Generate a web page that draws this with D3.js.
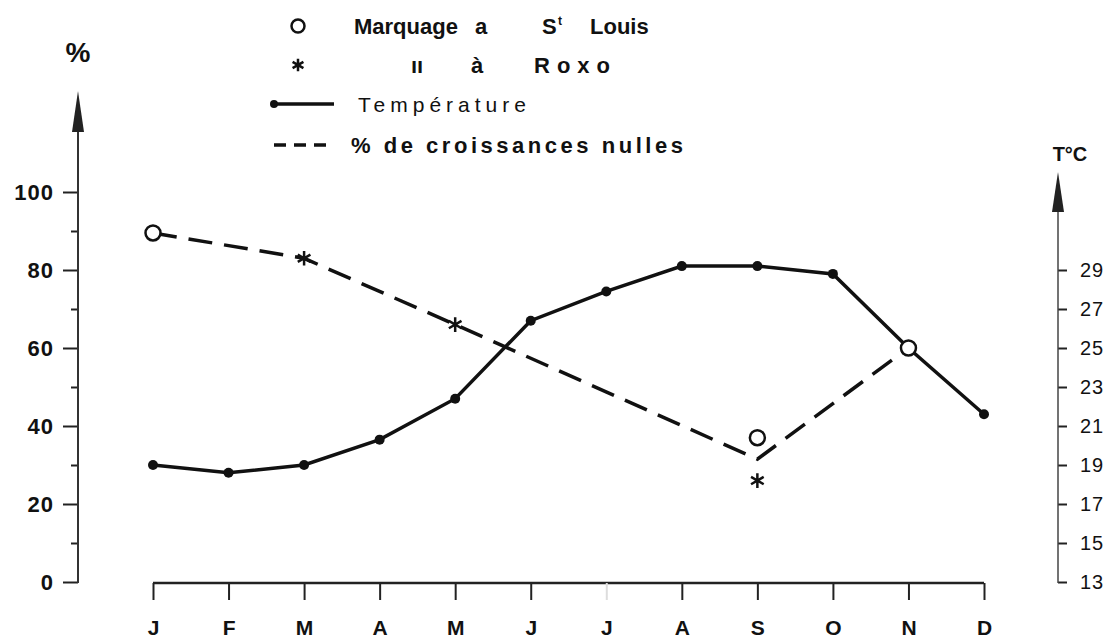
<!DOCTYPE html>
<html>
<head>
<meta charset="utf-8">
<script src="https://cdn.jsdelivr.net/npm/d3@7"></script>
<style>
	body { margin: 0; background: #fff; }
	text { font-family: "Liberation Sans", Arial, sans-serif; fill: #111; }
</style>
</head>
<body>
<div id="graphicContainer"></div>
<script>

// month initials along the bottom
var months = ["J", "F", "M", "A", "M", "J", "J", "A", "S", "O", "N", "D"]

// mean temperature per month (right axis, °C)
var temperature = [19.0, 18.6, 19.0, 20.3, 22.4, 26.4, 27.9, 29.2, 29.2, 28.8, 25.0, 21.6]

// % of zero growth (dashed line), month index + value
var nullMonths = [0, 2, 4, 8, 10]
var nullPct = [89.5, 83, 66, 31.5, 60]

// marking at St Louis (open circles)
var stLouisMonths = [0, 8, 10]
var stLouisPct = [89.5, 37, 60]

// marking at Roxo (asterisks)
var roxoMonths = [2, 4, 8]
var roxoPct = [83, 66, 26]

var pctTicks = [0, 20, 40, 60, 80, 100]
var pctMinor = [10, 30, 50, 70, 90]
var tempTicks = [13, 15, 17, 19, 21, 23, 25, 27, 29]

var width = 1118
var height = 642

var svg = d3.select("#graphicContainer").append("svg")
	.attr("width", width)
	.attr("height", height)

var x = d3.scaleLinear().domain([0, 11]).range([153, 984])
var y = d3.scaleLinear().domain([0, 100]).range([582, 192])
var yT = d3.scaleLinear().domain([13, 33]).range([582, 192])

var leftX = 78
var rightX = 1058

// ---- left axis
var left = svg.append("g").attr("transform", "translate(" + leftX + ",0)")
left.call(d3.axisLeft(y).tickValues(pctTicks).tickSize(15).tickPadding(9))
left.append("g").call(d3.axisLeft(y).tickValues(pctMinor).tickSize(7).tickFormat(""))
left.selectAll(".domain").remove()
left.selectAll("line").attr("stroke", "#222").attr("stroke-width", 2)
left.selectAll("text")
	.style("font-size", "22px")
	.style("font-weight", "bold")
	.attr("letter-spacing", "1px")
	.attr("fill", "#111")

svg.append("line")
	.attr("x1", leftX).attr("x2", leftX)
	.attr("y1", y(0) + 1).attr("y2", 131)
	.attr("stroke", "#333").attr("stroke-width", 2)
svg.append("path")
	.attr("d", "M" + leftX + ",91 L" + (leftX - 6) + ",132 L" + (leftX + 6) + ",132 Z")
	.attr("fill", "#222")
svg.append("text")
	.attr("x", leftX).attr("y", 62)
	.attr("text-anchor", "middle")
	.style("font-size", "28px").style("font-weight", "bold")
	.text("%")

// ---- right axis
var right = svg.append("g").attr("transform", "translate(" + rightX + ",0)")
right.call(d3.axisRight(yT).tickValues(tempTicks).tickSize(9).tickPadding(13))
right.selectAll(".domain").remove()
right.selectAll("line").attr("stroke", "#222").attr("stroke-width", 2)
right.selectAll("text")
	.style("font-size", "20px")
	.attr("letter-spacing", "1px")
	.attr("fill", "#222")

svg.append("line")
	.attr("x1", rightX).attr("x2", rightX)
	.attr("y1", yT(13) + 1).attr("y2", 210)
	.attr("stroke", "#444").attr("stroke-width", 1.5)
svg.append("path")
	.attr("d", "M" + rightX + ",172 L" + (rightX - 6) + ",212 L" + (rightX + 6) + ",212 Z")
	.attr("fill", "#222")
svg.append("text")
	.attr("x", rightX + 12).attr("y", 161)
	.attr("text-anchor", "middle")
	.style("font-size", "20px").style("font-weight", "bold")
	.text("T°C")

// ---- month axis
var bottom = svg.append("g").attr("transform", "translate(0," + 583 + ")")
bottom.call(d3.axisBottom(x).tickValues(d3.range(12)).tickSize(17).tickPadding(20)
	.tickFormat(function(i) { return months[i] }))
bottom.select(".domain").attr("d", "M" + x(0) + ",0H" + x(11)).attr("stroke", "#222").attr("stroke-width", 2.5)
bottom.selectAll("line").attr("stroke", "#222").attr("stroke-width", 2)
bottom.selectAll("text")
	.style("font-size", "21px")
	.style("font-weight", "bold")
	.attr("fill", "#111")
// July is almost erased in the original
var july = bottom.selectAll(".tick").filter(function(i) { return i == 6 })
july.select("line").attr("stroke", "#ddd")
july.select("text").attr("fill", "#e6e6e6")

// ---- dashed % line
var nullData = nullMonths.map(function(m, i) { return [m, nullPct[i]] })
svg.append("path")
	.datum(nullData)
	.attr("d", d3.line().x(function(d) { return x(d[0]) }).y(function(d) { return y(d[1]) }))
	.attr("fill", "none")
	.attr("stroke", "#111")
	.attr("stroke-width", 3.5)
	.attr("stroke-dasharray", "24,12")

// ---- temperature line
svg.append("path")
	.datum(temperature)
	.attr("d", d3.line().x(function(d, i) { return x(i) }).y(function(d) { return yT(d) }))
	.attr("fill", "none")
	.attr("stroke", "#111")
	.attr("stroke-width", 3.5)

svg.selectAll(".tdot")
	.data(temperature)
	.enter()
	.append("circle")
	.attr("class", "tdot")
	.attr("cx", function(d, i) { return x(i) })
	.attr("cy", function(d) { return yT(d) })
	.attr("r", 5)
	.attr("fill", "#111")

// ---- St Louis circles
svg.selectAll(".stl")
	.data(stLouisMonths)
	.enter()
	.append("circle")
	.attr("class", "stl")
	.attr("cx", function(d) { return x(d) })
	.attr("cy", function(d, i) { return y(stLouisPct[i]) })
	.attr("r", 7.5)
	.attr("fill", "#fff")
	.attr("stroke", "#111")
	.attr("stroke-width", 2.5)

// ---- Roxo asterisks
var star = d3.symbol().type(d3.symbolAsterisk).size(150)
svg.selectAll(".roxo")
	.data(roxoMonths)
	.enter()
	.append("path")
	.attr("class", "roxo")
	.attr("d", star)
	.attr("transform", function(d, i) { return "translate(" + x(d) + "," + y(roxoPct[i]) + ")" })
	.attr("fill", "none")
	.attr("stroke", "#111")
	.attr("stroke-width", 2.5)

// ---- legend
var legend = svg.append("g")
var lx = 298
var rows = [26, 65, 104, 145]

// row 1: open circle, "Marquage a St Louis"
legend.append("circle").attr("cx", lx).attr("cy", rows[0]).attr("r", 6.5)
	.attr("fill", "#fff").attr("stroke", "#111").attr("stroke-width", 2.5)
var t1 = legend.append("text").attr("y", rows[0] + 8)
	.style("font-size", "22px").style("font-weight", "bold")
t1.append("tspan").attr("x", 354).text("Marquage")
t1.append("tspan").attr("x", 475).text("a")
t1.append("tspan").attr("x", 542).text("S")
t1.append("tspan").attr("x", 558).attr("dy", -9).style("font-size", "12px").text("t")
t1.append("tspan").attr("x", 590).attr("dy", 9).text("Louis")

// row 2: asterisk, ditto, "à Roxo"
legend.append("path").attr("d", d3.symbol().type(d3.symbolAsterisk).size(110))
	.attr("transform", "translate(" + lx + "," + rows[1] + ")")
	.attr("fill", "none").attr("stroke", "#111").attr("stroke-width", 2.5)
var t2 = legend.append("text").attr("y", rows[1] + 8)
	.style("font-size", "22px").style("font-weight", "bold")
t2.append("tspan").attr("x", 411).text("ıı")
t2.append("tspan").attr("x", 471).text("à")
t2.append("tspan").attr("x", 534).attr("letter-spacing", "7px").text("Roxo")

// row 3: temperature line
legend.append("line").attr("x1", 274).attr("x2", 334).attr("y1", rows[2]).attr("y2", rows[2])
	.attr("stroke", "#111").attr("stroke-width", 3.5)
legend.append("circle").attr("cx", 274).attr("cy", rows[2]).attr("r", 4).attr("fill", "#111")
legend.append("text").attr("x", 358).attr("y", rows[2] + 8)
	.attr("textLength", 168).attr("lengthAdjust", "spacing")
	.style("font-size", "21px").attr("fill", "#333")
	.text("Température")

// row 4: dashed line
legend.append("line").attr("x1", 274).attr("x2", 334).attr("y1", rows[3]).attr("y2", rows[3])
	.attr("stroke", "#111").attr("stroke-width", 3.5).attr("stroke-dasharray", "12,8")
legend.append("text").attr("x", 351).attr("y", rows[3] + 8)
	.attr("textLength", 332).attr("lengthAdjust", "spacing")
	.style("font-size", "22px").style("font-weight", "bold")
	.text("% de croissances nulles")

</script>
</body>
</html>
